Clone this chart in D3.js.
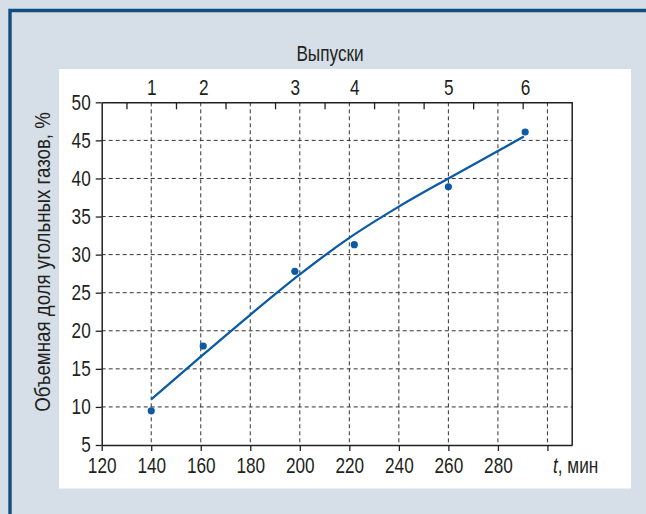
<!DOCTYPE html>
<html>
<head>
<meta charset="utf-8">
<script src="https://cdn.jsdelivr.net/npm/d3@7"></script>
<style>
  html, body { margin: 0; padding: 0; background: #d6dfe7; }
  svg { display: block; }
  text { font-family: "Liberation Sans", Arial, sans-serif; fill: #231f20; }
</style>
</head>
<body>
<svg id="chart" width="646" height="514"></svg>
<script>
// ---- data ----
const releaseLabels = ["1", "2", "3", "4", "5", "6"];
const releaseTimes  = [140, 161, 198, 222, 260, 291];
const measured      = [9.5, 18.0, 27.8, 31.3, 38.9, 46.1];
const fitTimes      = [140, 160, 180, 200, 220, 240, 260, 280, 290.5];
const fitValues     = [11.0, 16.6, 22.1, 27.4, 32.2, 36.3, 40.0, 43.6, 45.5];
const xTicks        = [120, 140, 160, 180, 200, 220, 240, 260, 280, 300];
const xTickLabels   = ["120", "140", "160", "180", "200", "220", "240", "260", "280", ""];
const xMinorTicks   = [130, 150, 170, 190, 210, 230, 250, 270, 290];
const yTicks        = [5, 10, 15, 20, 25, 30, 35, 40, 45, 50];
const topTitle      = "Выпуски";
const yTitle        = "Объемная доля угольных газов, %";

(function () {
// ---- layout ----
const svg = d3.select("#chart");
const W = 646, H = 514;
const pL = 101.7, pR = 572.2, pT = 102.3, pB = 445;
const SX = 0.8; // horizontal condensing of the font
const FS = 21.5;

const x = d3.scaleLinear().domain([120, 310]).range([pL, pR]);
const y = d3.scaleLinear().domain([5, 50]).range([pB, pT]);

// background + frame
svg.append("rect").attr("width", W).attr("height", H).attr("fill", "#d6dfe7");
svg.append("path")
  .attr("d", `M10,${H} L10,10.5 L${W},10.5`)
  .attr("fill", "none").attr("stroke", "#124d80").attr("stroke-width", 3.4);
svg.append("rect").attr("x", 59).attr("y", 69).attr("width", 572).attr("height", 419.5).attr("fill", "#fff");

// grid
const grid = svg.append("g").attr("stroke", "#333").attr("stroke-width", 1).attr("stroke-dasharray", "4,3");
grid.selectAll("line.v").data(xTicks.filter(d => d > 120)).join("line")
  .attr("x1", d => x(d)).attr("x2", d => x(d)).attr("y1", pT).attr("y2", pB);
grid.selectAll("line.h").data(yTicks.filter(d => d > 5 && d < 50)).join("line")
  .attr("x1", pL).attr("x2", pR).attr("y1", d => y(d)).attr("y2", d => y(d));

function styleAxis(g) {
  g.select(".domain").attr("stroke", "#231f20").attr("stroke-width", 1.5);
  g.selectAll(".tick line").attr("stroke", "#231f20").attr("stroke-width", 1.3);
  g.selectAll("text").attr("font-size", FS).style("fill", "#231f20");
  g.attr("font-family", null).attr("font-size", null);
}

// bottom axis
const gb = svg.append("g").attr("transform", `translate(0,${pB})`)
  .call(d3.axisBottom(x).tickValues(xTicks).tickSize(6).tickSizeOuter(0).tickPadding(7)
    .tickFormat((d, i) => xTickLabels[i]));
styleAxis(gb);
gb.selectAll("text").attr("transform", `scale(${SX},1)`);

// left axis
const gl = svg.append("g").attr("transform", `translate(${pL},0)`)
  .call(d3.axisLeft(y).tickValues(yTicks).tickSize(6).tickSizeOuter(0).tickFormat(d3.format("d")));
styleAxis(gl);
gl.selectAll("text").attr("x", -11 / SX).attr("transform", `scale(${SX},1)`);

// top axis: minor ticks
const gt = svg.append("g").attr("transform", `translate(0,${pT})`)
  .call(d3.axisTop(x).tickValues(xMinorTicks).tickSize(-7).tickSizeOuter(0).tickFormat(""));
styleAxis(gt);
// top axis: release labels
const gt2 = svg.append("g").attr("transform", `translate(0,${pT})`)
  .call(d3.axisTop(x).tickValues(releaseTimes).tickSize(0).tickSizeOuter(0).tickPadding(7)
    .tickFormat((d, i) => releaseLabels[i]));
styleAxis(gt2);
gt2.select(".domain").remove();
gt2.selectAll("text").attr("transform", `scale(${SX},1)`);

// right border
svg.append("line").attr("x1", pR).attr("x2", pR).attr("y1", pT).attr("y2", pB)
  .attr("stroke", "#231f20").attr("stroke-width", 1.5);

// fitted curve
svg.append("path")
  .datum(d3.zip(fitTimes, fitValues))
  .attr("d", d3.line().x(d => x(d[0])).y(d => y(d[1])).curve(d3.curveMonotoneX))
  .attr("fill", "none").attr("stroke", "#0b5aa6").attr("stroke-width", 2.3);

// measured points
svg.selectAll("circle.pt").data(d3.zip(releaseTimes, measured)).join("circle")
  .attr("cx", d => x(d[0])).attr("cy", d => y(d[1])).attr("r", 3.6).attr("fill", "#0b5aa6");

// titles
svg.append("text").attr("transform", `translate(330,61) scale(${SX},1)`)
  .attr("text-anchor", "middle").attr("font-size", FS).text(topTitle);

svg.append("text").attr("transform", `translate(50,262) rotate(-90) scale(0.87,1)`)
  .attr("text-anchor", "middle").attr("font-size", FS).text(yTitle);

const tl = svg.append("text").attr("transform", `translate(553,473) scale(${SX},1)`)
  .attr("font-size", FS);
tl.append("tspan").attr("font-style", "italic").text("t");
tl.append("tspan").text(", мин");
})();
</script>
</body>
</html>
